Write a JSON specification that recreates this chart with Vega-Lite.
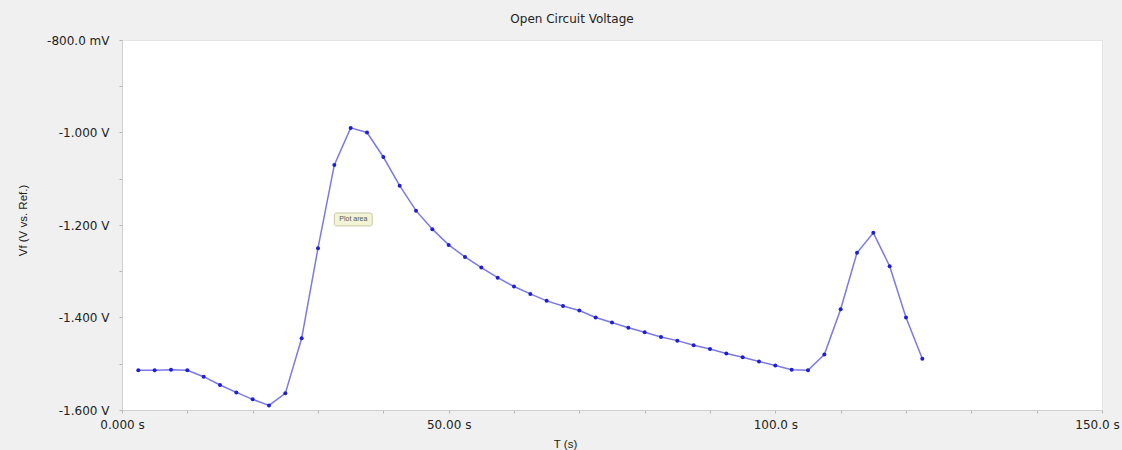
{
  "$schema": "https://vega.github.io/schema/vega-lite/v6.json",
  "autosize": {"type": "none"},
  "width": 980,
  "height": 370,
  "padding": {"left": 122, "top": 40, "right": 20, "bottom": 40},
  "background": "#f0f0f0",
  "config": {
    "font": "Liberation Sans",
    "view": {"fill": "#ffffff", "stroke": "#e4e4e4"},
    "axis": {"grid": false, "labelFont": "DejaVu Sans", "titleFont": "Liberation Sans", "labelColor": "#222222", "titleColor": "#222222", "labelFontSize": 12, "titleFontSize": 11.5, "titleFontWeight": "normal", "domainColor": "#cfcfcf", "tickColor": "#b5b5b5", "tickSize": 3, "labelOverlap": false, "labelFlush": false, "labelBound": false}
  },
  "title": {"text": "Open Circuit Voltage", "anchor": "middle", "dx": -40, "offset": 8, "fontSize": 12, "fontWeight": "normal", "color": "#222222", "font": "DejaVu Sans"},
  "datasets": {
    "ocv": [
      {"t": 2.5, "v": -1.514}, {"t": 5, "v": -1.514}, {"t": 7.5, "v": -1.513}, {"t": 10, "v": -1.514},
      {"t": 12.5, "v": -1.528}, {"t": 15, "v": -1.546}, {"t": 17.5, "v": -1.562}, {"t": 20, "v": -1.577},
      {"t": 22.5, "v": -1.590}, {"t": 25, "v": -1.564}, {"t": 27.5, "v": -1.445}, {"t": 30, "v": -1.250},
      {"t": 32.5, "v": -1.070}, {"t": 35, "v": -0.990}, {"t": 37.5, "v": -1.000}, {"t": 40, "v": -1.053},
      {"t": 42.5, "v": -1.115}, {"t": 45, "v": -1.169}, {"t": 47.5, "v": -1.209}, {"t": 50, "v": -1.243},
      {"t": 52.5, "v": -1.269}, {"t": 55, "v": -1.292}, {"t": 57.5, "v": -1.314}, {"t": 60, "v": -1.333},
      {"t": 62.5, "v": -1.349}, {"t": 65, "v": -1.364}, {"t": 67.5, "v": -1.375}, {"t": 70, "v": -1.385},
      {"t": 72.5, "v": -1.400}, {"t": 75, "v": -1.411}, {"t": 77.5, "v": -1.422}, {"t": 80, "v": -1.432},
      {"t": 82.5, "v": -1.442}, {"t": 85, "v": -1.450}, {"t": 87.5, "v": -1.460}, {"t": 90, "v": -1.468},
      {"t": 92.5, "v": -1.478}, {"t": 95, "v": -1.486}, {"t": 97.5, "v": -1.495}, {"t": 100, "v": -1.504},
      {"t": 102.5, "v": -1.513}, {"t": 105, "v": -1.514}, {"t": 107.5, "v": -1.480}, {"t": 110, "v": -1.382},
      {"t": 112.5, "v": -1.260}, {"t": 115, "v": -1.217}, {"t": 117.5, "v": -1.289}, {"t": 120, "v": -1.400},
      {"t": 122.5, "v": -1.489}
    ],
    "tip": [
      {"t0": 32.5, "t1": 38.3, "v0": -1.174, "v1": -1.202, "tm": 35.4, "vm": -1.188, "label": "Plot area"}
    ]
  },
  "layer": [
    {
      "data": {"name": "ocv"},
      "mark": {"type": "line", "color": "#6a6ae8", "strokeWidth": 1.5, "opacity": 0.9},
      "encoding": {
        "x": {"field": "t", "type": "quantitative", "scale": {"domain": [0, 150], "nice": false, "zero": false},
          "axis": {"title": "T (s)", "values": [0,10,20,30,40,50,60,70,80,90,100,110,120,130,140,150], "labelExpr": "datum.value == 0 ? '0.000 s' : datum.value == 50 ? '50.00 s' : (datum.value % 50 == 0 ? format(datum.value, '.1f') + ' s' : '')", "labelOffset": {"condition": {"test": "datum.value == 150", "value": -5}, "value": 0}, "labelPadding": 6, "titleX": 443, "titleY": 37, "titleBaseline": "alphabetic", "titleAnchor": "middle"}},
        "y": {"field": "v", "type": "quantitative", "scale": {"domain": [-1.6, -0.8], "nice": false, "zero": false},
          "axis": {"title": "Vf (V vs. Ref.)", "values": [-1.6,-1.55,-1.5,-1.45,-1.4,-1.35,-1.3,-1.25,-1.2,-1.15,-1.1,-1.05,-1.0,-0.95,-0.9,-0.85,-0.8], "labelExpr": "round(datum.value*1000) % 200 == 0 ? (round(datum.value*1000) == -800 ? '-800.0 mV' : '-' + format(abs(datum.value), '.3f') + ' V') : ''", "labelPadding": 10, "titleX": -99, "titleY": 180, "titleAngle": -90, "titleBaseline": "middle", "titleAnchor": "middle"}}
      }
    },
    {
      "data": {"name": "ocv"},
      "mark": {"type": "point", "filled": true, "color": "#1e1ed2", "size": 16, "opacity": 1},
      "encoding": {
        "x": {"field": "t", "type": "quantitative"},
        "y": {"field": "v", "type": "quantitative"}
      }
    },
    {
      "data": {"name": "tip"},
      "mark": {"type": "rect", "fill": "#f3f3d6", "stroke": "#c9c9a6", "strokeWidth": 1, "cornerRadius": 2},
      "encoding": {
        "x": {"field": "t0", "type": "quantitative"},
        "x2": {"field": "t1"},
        "y": {"field": "v0", "type": "quantitative"},
        "y2": {"field": "v1"}
      }
    },
    {
      "data": {"name": "tip"},
      "mark": {"type": "text", "fontSize": 7, "color": "#555555", "font": "Liberation Sans"},
      "encoding": {
        "x": {"field": "tm", "type": "quantitative"},
        "y": {"field": "vm", "type": "quantitative"},
        "text": {"field": "label"}
      }
    }
  ]
}
